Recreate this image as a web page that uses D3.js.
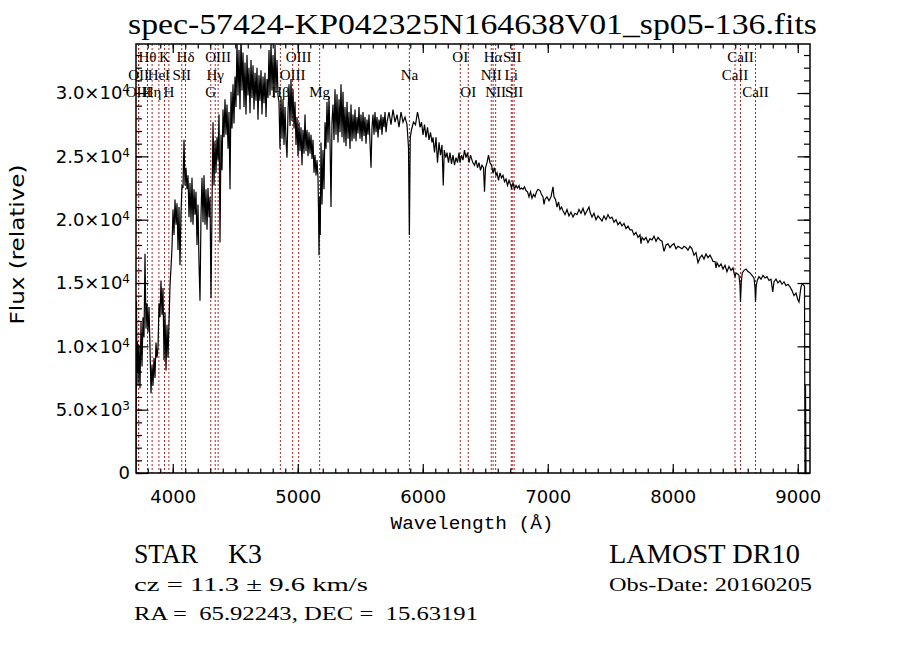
<!DOCTYPE html>
<html>
<head>
<meta charset="utf-8">
<style>
  body { margin: 0; background: #fff; }
  svg { display: block; }
  .axis line { stroke: #000; stroke-width: 1.2; }
  .axis text { font: 18px "DejaVu Sans", sans-serif; fill: #000; }
  .lbl { font: 15px "Liberation Serif", serif; fill: #000; }
  .info { font-family: "Liberation Serif", serif; fill: #000; white-space: pre; }
</style>
<script src="https://d3js.org/d3.v7.min.js"></script>
</head>
<body>
<script>

// spectrum: [wavelength (A), flux]
var specBlue = [
  [3706,0],[3710,13600],[3714,7900],[3718,10400],[3722,6900],[3730,10100],[3738,6700],[3746,11900],
  [3754,8400],[3762,12300],[3770,10700],[3778,17300],[3786,11400],[3794,13400],[3802,11100],[3810,13100],
  [3818,9900],[3826,6300],[3834,8500],[3842,6900],[3850,9100],[3858,7500],[3866,10300],[3874,9100],
  [3882,9900],[3890,13400],[3898,12300],[3906,15200],[3914,12500],[3922,14600],[3930,8900],[3938,12700],
  [3946,8100],[3954,11700],[3962,9100],[3970,11900],[3978,14800],[3986,16200],[3994,17800],[4002,20800],
  [4010,18800],[4018,21600],[4026,19600],[4034,21300],[4042,17600],[4050,21000],[4058,16400],[4066,20600],
  [4074,22700],[4082,22500],[4090,26300],[4098,22700],[4106,24100],[4114,22400],[4122,23500],[4130,20200],
  [4138,22900],[4146,19800],[4154,23300],[4162,19600],[4170,22400],[4178,20400],[4186,22200],[4194,18000],
  [4202,21200],[4210,16600],[4218,13600],[4226,20300],[4234,23300],[4242,19800],[4250,23500],[4258,19600],
  [4266,22400],[4274,19200],[4282,22500],[4290,20200],[4298,21800],[4306,13800],[4314,20800],[4322,27700],
  [4330,22700],[4338,26200],[4346,23700],[4354,26500],[4362,24700],[4370,28300],[4378,18200],[4386,26700],
  [4394,23900],[4402,28700],[4410,26500],[4418,29500],[4426,26700],[4434,29100],[4442,25600],[4450,28500],
  [4458,22400],[4466,30100],[4474,27200],[4482,30700],[4490,27600],[4498,31300],[4506,28900],[4514,34100],
  [4522,29800],[4530,33400],[4538,28700],[4546,34600],[4554,30200],[4562,33200],[4570,28900],[4578,32400],
  [4586,28300],[4594,33000],[4602,29800],[4610,32000],[4618,28400],[4626,32600],[4634,29600],[4642,32200],
  [4650,28700],[4658,31600],[4666,29400],[4674,32000],[4682,27900],[4690,31400],[4698,29400],[4706,31800],
  [4714,28300],[4722,31300],[4730,29200],[4738,31600],[4746,28100],[4754,31100],[4762,29600],[4770,33400],
  [4778,29800],[4786,34000],[4794,30200],[4802,33000],[4810,29600],[4818,33800],[4826,30000],[4834,32600],
  [4842,29800],[4850,29300],[4858,25600],[4866,29700],[4874,26400],[4882,29500],[4890,25900],[4898,28900],
  [4906,26200],[4914,24900],[4922,28500],[4930,30700],[4938,27400],[4946,31100],[4954,27800],[4962,30300],
  [4970,27200],[4978,29300],[4986,25900],[4994,28100],[5002,25000],[5010,27700],[5018,25400],[5026,27300],
  [5034,24300],[5042,27100],[5050,25200],[5058,28300]
];

var specGreen = [
  [5066,25400],[5074,27100],[5082,25000],[5090,26900],[5098,25200],[5106,26700],[5114,24800],[5122,26300],
  [5130,23700],[5138,25100],[5146,23500],[5154,24700],[5162,23300],[5166,20800],[5170,17200],[5176,21800],
  [5180,18800],[5186,26100],[5194,21200],[5202,25500],[5210,22400],[5218,27700],[5226,25600],[5234,29300],
  [5242,26100],[5250,29700],[5258,26300],[5266,21000],[5274,27700],[5282,29100],[5290,26300],[5298,30300],
  [5306,26700],[5314,29900],[5322,26100],[5330,29500],[5338,26900],[5346,30700],[5354,26500],[5362,30100],
  [5370,26100],[5378,28900],[5386,25800],[5394,29300],[5402,26400],[5410,28500],[5418,25600],[5426,29100],
  [5434,26200],[5442,28300],[5450,26400],[5458,28700],[5466,26200],[5474,28100],[5482,26800],[5490,28900],
  [5498,26400],[5506,28300],[5514,26200],[5522,28500],[5530,26600],[5538,28100],[5546,26000],[5554,27900],
  [5562,26700],[5570,28300],[5578,26100],[5586,24100],[5594,27300],[5602,28300],[5610,26700],[5618,28500],
  [5626,26900],[5634,28100],[5642,26500],[5650,27900],[5658,27100],[5666,28300],[5674,26700],[5682,28100],
  [5690,27300],[5698,28500],[5706,26900],[5714,27700],[5730,28500],[5746,27500],[5762,28700],[5778,27700],
  [5794,28300],[5810,27300],[5826,28500],[5842,27700],[5858,28100],[5874,27500],[5886,25700],[5893,18800],
  [5900,26500],[5910,27100],[5926,27700],[5942,27500],[5958,28500],[5970,27900],[5978,27300],[5990,27700],
  [6002,26700],[6014,27500],[6026,26500],[6038,27300],[6050,26300],[6062,26900],[6074,26100],[6082,26500],
  [6094,25300],[6106,26500],[6118,24500],[6130,26100],[6142,25100],[6154,25900],[6164,22700],[6172,25500],
  [6184,24900],[6194,25300],[6206,24500],[6218,25300],[6230,24400],[6242,25100],[6254,24300],[6266,24900],
  [6278,24500],[6290,25300],[6298,24500],[6310,25100],[6322,24700],[6334,25500],[6346,24900],[6358,25300],
  [6370,24500],[6382,25100],[6394,24700],[6402,24500],[6414,24300],[6426,24700],[6438,24100],[6450,24500],
  [6462,23900],[6474,24300],[6486,24100],[6494,22200],[6502,24100],[6514,24500],[6526,25100],[6538,24500],
  [6550,24300],[6562,23700],[6574,24100],[6586,23500],[6594,23700],[6606,23100],[6618,23700],[6630,23300],
  [6642,23500],[6654,23000],[6666,23200],[6678,22700],[6690,23100],[6698,22900]
];

var specRed = [
  [6710,22500],[6722,22900],[6734,22400],[6746,22700],[6758,22500],[6770,22700],[6778,22400],[6790,22500],
  [6802,22400],[6814,22600],[6826,22300],[6838,22200],[6850,21800],[6862,22200],[6874,21700],[6886,22000],
  [6898,21800],[6910,22200],[6922,22400],[6938,22300],[6950,22000],[6962,21800],[6970,21200],[6978,21600],
  [6994,21800],[7010,21500],[7026,21800],[7034,22200],[7042,22600],[7050,21800],[7062,21600],[7074,21000],
  [7086,21400],[7098,20800],[7110,21000],[7122,20700],[7138,20400],[7154,20800],[7170,20300],[7186,20600],
  [7202,20200],[7218,20500],[7234,20400],[7250,20800],[7266,20500],[7282,20900],[7298,20400],[7314,20700],
  [7330,21000],[7338,20600],[7354,20200],[7370,20500],[7386,20000],[7402,20300],[7418,20100],[7434,19900],
  [7450,20300],[7466,20000],[7482,20400],[7498,20100],[7514,20200],[7530,19800],[7546,20000],[7562,19600],
  [7578,19800],[7594,19500],[7610,19700],[7626,19300],[7642,19500],[7658,19200],[7674,19200],[7690,18800],
  [7706,19000],[7722,18600],[7738,18800],[7746,18100],[7754,18600],[7770,18400],[7786,18600],[7802,18200],
  [7818,18500],[7834,18400],[7850,18700],[7866,18300],[7882,18600],[7898,18400],[7914,18300],[7930,17500],
  [7946,18000],[7962,18100],[7978,17800],[7994,18000],[8010,18100],[8026,17700],[8042,17900],[8058,17800],
  [8074,17700],[8090,17900],[8106,17800],[8122,17600],[8138,17900],[8154,17700],[8170,17200],[8186,17400],
  [8202,16600],[8218,17000],[8234,17200],[8250,16900],[8266,17300],[8282,17000],[8298,17200],[8314,16900],
  [8322,16700],[8338,16700],[8346,16200],[8354,16600],[8370,16300],[8386,16500],[8402,16100],[8418,16400],
  [8434,15900],[8450,16300],[8466,16000],[8482,16200],[8490,15800],[8498,15500],[8506,15800],[8522,15700],
  [8530,15600],[8538,14800],[8542,13500],[8548,15000],[8556,15800],[8570,16000],[8586,16100],[8602,15900],
  [8618,15800],[8634,15600],[8650,15400],[8658,14600],[8662,13500],[8668,14800],[8676,15200],[8690,15500],
  [8706,15300],[8722,15600],[8738,15400],[8754,15500],[8770,15200],[8786,15300],[8800,14300],[8810,15100],
  [8826,15300],[8842,15000],[8858,15200],[8874,14900],[8890,15100],[8906,14800],[8922,14900],[8938,14700],
  [8954,14400],[8970,14000],[8986,14200],[9000,13700],[9010,13500],[9018,14100],[9026,14700],[9034,14900],
  [9042,14900],[9050,14800],[9054,14700],[9058,0],[9062,6900],[9066,0]
];

// identified lines
var lineNames = ["OII","H\u03b8","OIII","H\u03b7","HeI","K","H","SII","H\u03b4","G","H\u03b3","OIII","H\u03b2","OIII","OIII","Mg",
                 "Na","OI","OI","NII","H\u03b1","NII","Li","SII","SII","CaII","CaII","CaII"];
var lineWaves = [3727,3798,3727,3835,3889,3934,3969,4072,4102,4304,4340,4363,4861,4959,5007,5175,
                 5893,6300,6364,6548,6563,6583,6708,6716,6731,8498,8542,8662];
var lineRows  = [2,1,3,3,2,1,3,2,1,3,2,1,3,2,1,3,
                 2,1,3,2,1,3,2,1,3,2,1,3];

var xMajor = [4000, 5000, 6000, 7000, 8000, 9000];
var yMajor = [0, 5000, 10000, 15000, 20000, 25000, 30000];
var yTickText = ["0", "5.0\u00d710", "1.0\u00d710", "1.5\u00d710", "2.0\u00d710", "2.5\u00d710", "3.0\u00d710"];
var yTickExp  = ["", "3", "4", "4", "4", "4", "4"];

var xDomain = [3706, 9098];
var yDomain = [0, 33870];

var title = "spec-57424-KP042325N164638V01_sp05-136.fits";

var margin = {left: 136, top: 44},
    W = 674,
    H = 429;

var svg = d3.select("body").append("svg")
  .attr("width", 900)
  .attr("height", 649);

var g = svg.append("g")
  .attr("transform", "translate(" + margin.left + "," + margin.top + ")");

var x = d3.scaleLinear().domain(xDomain).range([0, W]);
var y = d3.scaleLinear().domain(yDomain).range([H, 0]);

g.append("clipPath").attr("id", "plotclip")
  .append("rect").attr("width", W).attr("height", H);

// dotted line markers
g.selectAll(".mark")
  .data(lineWaves)
  .enter().append("line")
  .attr("class", "mark")
  .attr("x1", function(d) { return x(d); })
  .attr("x2", function(d) { return x(d); })
  .attr("y1", 0)
  .attr("y2", H)
  .attr("stroke", "#b22222")
  .attr("stroke-width", 1)
  .attr("stroke-dasharray", "2,2");

var rowY = {1: 18, 2: 36, 3: 53};
g.selectAll(".lbl")
  .data(lineNames)
  .enter().append("text")
  .attr("class", "lbl")
  .attr("x", function(d, i) { return x(lineWaves[i]); })
  .attr("y", function(d, i) { return rowY[lineRows[i]]; })
  .attr("text-anchor", "middle")
  .text(function(d) { return d; });

// spectrum
var spectrum = specBlue.concat(specGreen, specRed);
var line = d3.line()
  .x(function(d) { return x(d[0]); })
  .y(function(d) { return y(d[1]); });

g.append("path")
  .datum(spectrum)
  .attr("clip-path", "url(#plotclip)")
  .attr("fill", "none")
  .attr("stroke", "#000")
  .attr("stroke-width", 1.2)
  .attr("d", line);

// axes (ticks point inward on all four sides)
function addAxis(axis, tr) {
  return g.append("g")
    .attr("class", "axis")
    .attr("transform", tr)
    .call(axis)
    .call(function(s) { s.select(".domain").remove(); });
}

addAxis(d3.axisBottom(x).tickValues(x.ticks(54)).tickSize(-4.5).tickFormat(""), "translate(0," + H + ")");
addAxis(d3.axisBottom(x).tickValues(xMajor).tickSize(-9).tickPadding(17).tickFormat(d3.format("d")), "translate(0," + H + ")");
addAxis(d3.axisTop(x).tickValues(x.ticks(54)).tickSize(-4.5).tickFormat(""), "translate(0,0)");
addAxis(d3.axisTop(x).tickValues(xMajor).tickSize(-9).tickFormat(""), "translate(0,0)");

addAxis(d3.axisLeft(y).tickValues(y.ticks(34)).tickSize(-6).tickFormat(""), "translate(0,0)");
var yAx = addAxis(d3.axisLeft(y).tickValues(yMajor).tickSize(-12.5).tickPadding(6)
  .tickFormat(function(d, i) { return yTickText[i]; }), "translate(0,0)");
addAxis(d3.axisRight(y).tickValues(y.ticks(34)).tickSize(-6).tickFormat(""), "translate(" + W + ",0)");
addAxis(d3.axisRight(y).tickValues(yMajor).tickSize(-12.5).tickFormat(""), "translate(" + W + ",0)");

yAx.selectAll("text").each(function(d, i) {
  if (yTickExp[i]) {
    d3.select(this).append("tspan")
      .attr("dy", "-0.5em")
      .attr("font-size", "12px")
      .text(yTickExp[i]);
  }
});

g.append("rect")
  .attr("width", W)
  .attr("height", H)
  .attr("fill", "none")
  .attr("stroke", "#000")
  .attr("stroke-width", 1.5);

// axis titles
g.append("text")
  .attr("transform", "translate(" + (-112) + "," + (H / 2 - 14) + ") rotate(-90)")
  .attr("text-anchor", "middle")
  .attr("font-family", "DejaVu Sans, sans-serif")
  .attr("font-size", 19)
  .attr("textLength", 160)
  .attr("lengthAdjust", "spacingAndGlyphs")
  .text("Flux (relative)");

g.append("text")
  .attr("x", 336)
  .attr("y", H + 56)
  .attr("text-anchor", "middle")
  .attr("font-family", "Liberation Mono, monospace")
  .attr("font-size", 19)
  .attr("textLength", 163)
  .attr("lengthAdjust", "spacingAndGlyphs")
  .text("Wavelength (\u00c5)");

// title and info block
function info(txt, x0, y0, size, len) {
  svg.append("text")
    .attr("class", "info")
    .attr("x", x0)
    .attr("y", y0)
    .attr("font-size", size)
    .attr("textLength", len)
    .attr("lengthAdjust", "spacingAndGlyphs")
    .text(txt);
}

info(title, 128, 34, 29, 689);
info("STAR", 134, 563, 27, 64);
info("K3", 228, 563, 27, 34);
info("LAMOST DR10", 609, 563, 27, 191);
info("cz = 11.3 \u00b1 9.6 km/s", 134, 591, 19, 234);
info("Obs-Date: 20160205", 609, 591, 19, 203);
info("RA =  65.92243, DEC =  15.63191", 134, 620, 19, 344);

</script>
</body>
</html>
